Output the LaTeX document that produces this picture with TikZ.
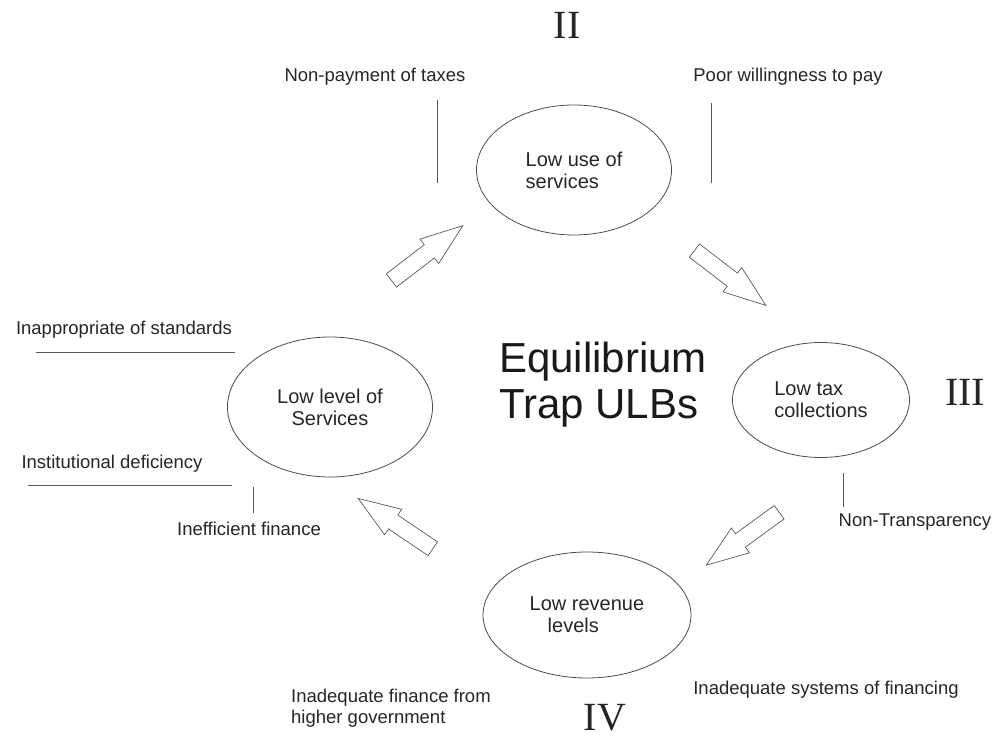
\documentclass[tikz,border=0pt]{standalone}
\usepackage{fontspec}
\setmainfont{Liberation Sans}
\newfontfamily\romanfont{Liberation Serif}
\usetikzlibrary{shapes.geometric,shapes.arrows}
\tikzset{
  state/.style={draw=black!70, ellipse, line width=0.8pt, inner sep=0pt, font=\fontsize{20}{22}\selectfont, text=black!85},
  note/.style={inner sep=0pt, font=\fontsize{18.5}{21}\selectfont, text=black!85},
  numeral/.style={inner sep=0pt, font=\romanfont\fontsize{40}{40}\selectfont, text=black!85},
  title/.style={inner sep=0pt, align=left, font=\fontsize{42}{46}\selectfont, text=black!90},
  rule/.style={draw=black!65, line width=0.8pt},
  flow/.style={draw=black!65, line width=0.7pt, single arrow, minimum height=90pt, minimum width=30pt,
    single arrow head extend=7pt, single arrow tip angle=40, inner xsep=0pt, inner ysep=8pt},
}

\begin{document}
\begin{tikzpicture}[x=1pt, y=-1pt]
  \useasboundingbox (0,0) rectangle (997,739);

  % Centre
  \node[title] (trap) at (603,385) {Equilibrium\\Trap ULBs};

  % The four stages
  \node[state, minimum width=195pt, minimum height=130pt, align=left] (use) at (574,170) {Low use of\\services};
  \node[state, minimum width=177pt, minimum height=115pt, align=left] (tax) at (821,400) {Low tax\\collections};
  \node[state, minimum width=208pt, minimum height=126pt, align=left] (revenue) at (587,615) {Low revenue\\\hspace{18pt}levels};
  \node[state, minimum width=205pt, minimum height=140pt, align=center] (level) at (330,407) {Low level of\\Services};

  % Numerals
  \node[numeral] (two) at (567,25) {II};
  \node[numeral] (three) at (965,392) {III};
  \node[numeral] (four) at (605,718) {IV};

  % Cycle arrows
  \node[flow, rotate=37.5] (a1) at (418,260) {};
  \node[flow, rotate=-37.5] (a2) at (721,271) {};
  \node[flow, rotate=216] (a3) at (752,532) {};
  \node[flow, rotate=146] (a4) at (405,530) {};

  % Causes
  \node[note] (nonpay) at (375,77) {Non-payment of taxes};
  \node[note] (poor) at (788,77) {Poor willingness to pay};
  \node[note] (standards) at (124,330) {Inappropriate of standards};
  \node[note] (institution) at (112,464) {Institutional deficiency};
  \node[note] (inefficient) at (249,529) {Inefficient finance};
  \node[note] (transparency) at (915,522) {Non-Transparency};
  \node[note, align=left, anchor=west] (higher) at (291,708) {Inadequate finance from\\higher government};
  \node[note] (systems) at (826,690) {Inadequate systems of financing};

  \draw[rule] (437,100) -- (437,183);
  \draw[rule] (711,103) -- (711,183);
  \draw[rule] (36,352) -- (235,352);
  \draw[rule] (28,485) -- (232,485);
  \draw[rule] (253,487) -- (253,513);
  \draw[rule] (843,473) -- (843,507);
\end{tikzpicture}
\end{document}
